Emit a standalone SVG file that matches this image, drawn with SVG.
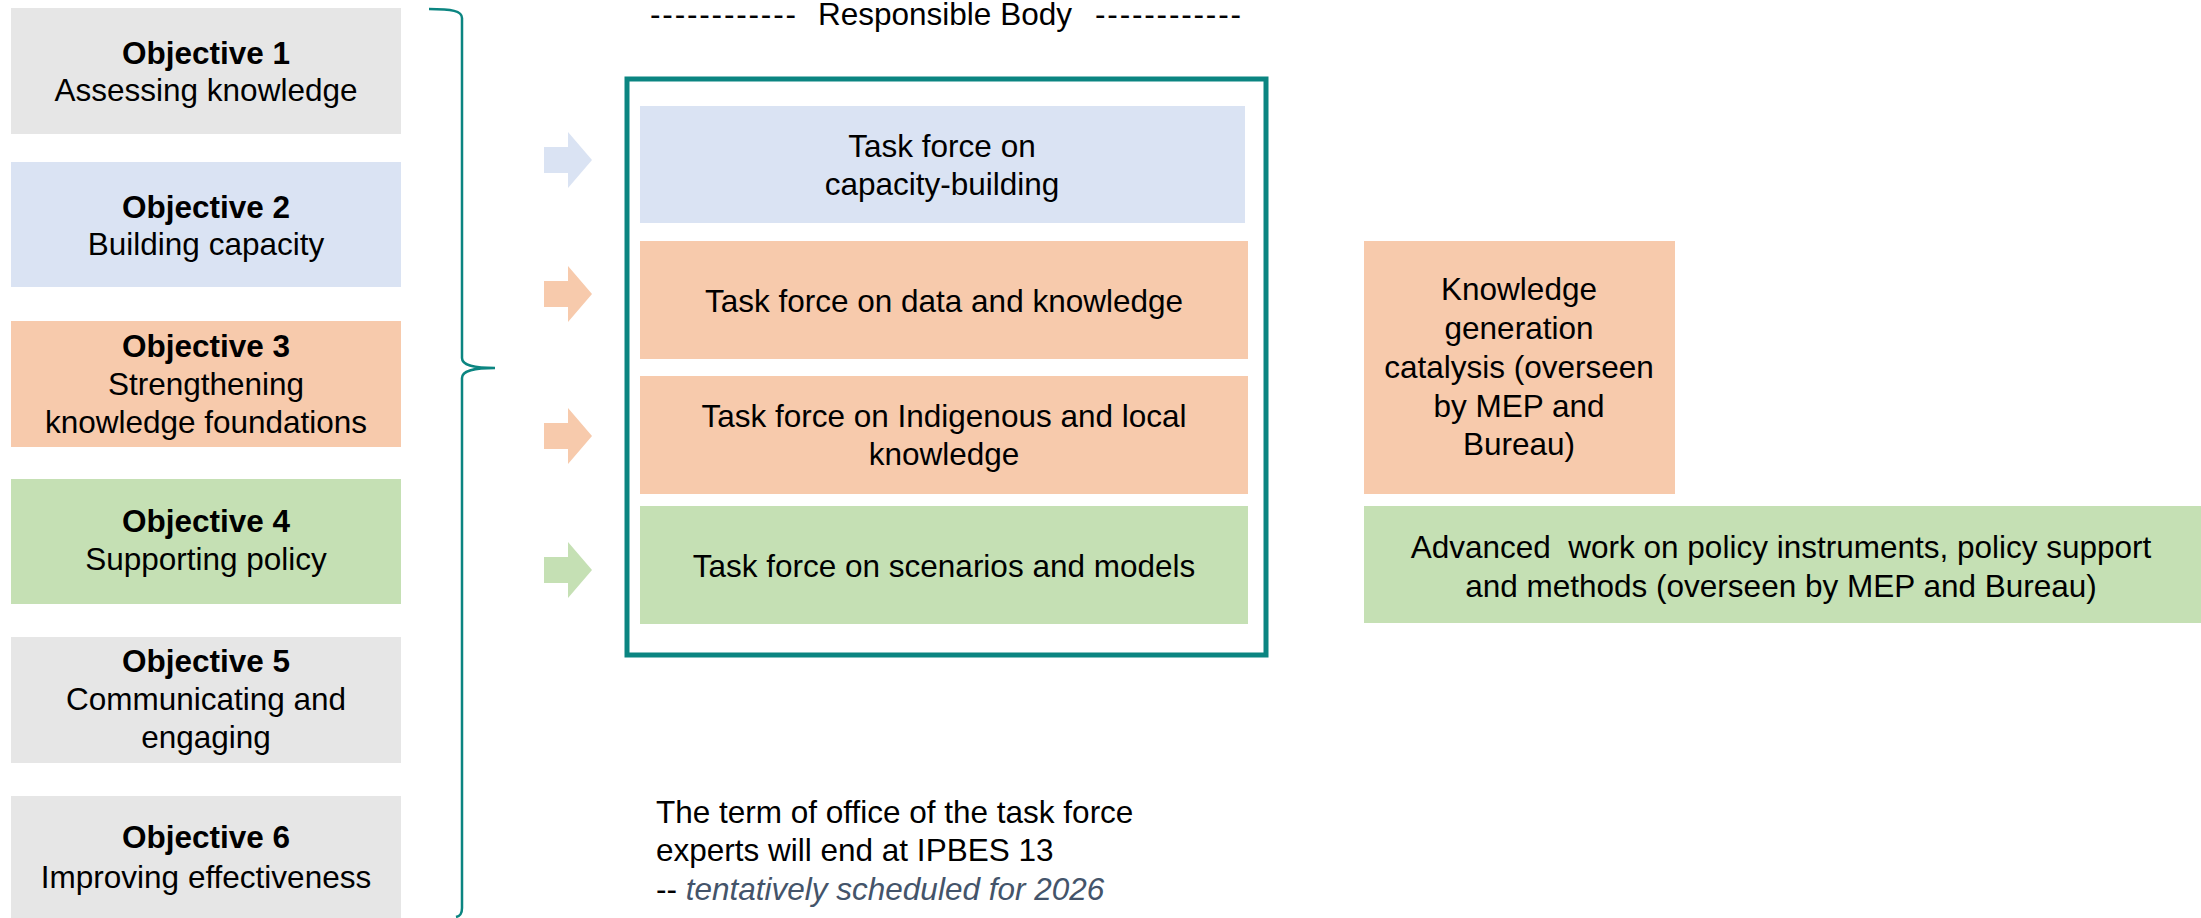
<svg xmlns="http://www.w3.org/2000/svg" width="2201" height="918" viewBox="0 0 2201 918">
<defs>
<style>
text{font-family:"Liberation Sans",Arial,Helvetica,sans-serif;font-size:31.5px;fill:#000;text-anchor:middle}
.b{font-weight:bold}
.grey{fill:#e6e6e6}
.blue{fill:#dae3f3}
.orange{fill:#f7caac}
.green{fill:#c5e0b4}
.it{font-style:italic;fill:#44546a}
.l{text-anchor:start}
</style>
</defs>
<rect width="2201" height="918" fill="#fff"/>

<g id="header">
<text x="723" y="25" textLength="146" lengthAdjust="spacing">------------</text>
<text x="945" y="25">Responsible Body</text>
<text x="1168" y="25" textLength="146" lengthAdjust="spacing">------------</text>
</g>

<g id="obj1"><rect class="grey" x="11" y="8" width="390" height="126"/><text class="b" x="206" y="64">Objective 1</text><text x="206" y="101">Assessing knowledge</text></g>
<g id="obj2"><rect class="blue" x="11" y="162" width="390" height="125"/><text class="b" x="206" y="218">Objective 2</text><text x="206" y="255">Building capacity</text></g>
<g id="obj3"><rect class="orange" x="11" y="321" width="390" height="126"/><text class="b" x="206" y="357">Objective 3</text><text x="206" y="395">Strengthening</text><text x="206" y="433">knowledge foundations</text></g>
<g id="obj4"><rect class="green" x="11" y="479" width="390" height="125"/><text class="b" x="206" y="532">Objective 4</text><text x="206" y="570">Supporting policy</text></g>
<g id="obj5"><rect class="grey" x="11" y="637" width="390" height="126"/><text class="b" x="206" y="672">Objective 5</text><text x="206" y="710">Communicating and</text><text x="206" y="748">engaging</text></g>
<g id="obj6"><rect class="grey" x="11" y="796" width="390" height="122"/><text class="b" x="206" y="848">Objective 6</text><text x="206" y="888">Improving effectiveness</text></g>

<g id="responsible-body">
<rect x="627" y="79" width="639" height="576" fill="none" stroke="#0b8581" stroke-width="5"/>
</g>
<g id="tf1"><rect class="blue" x="640" y="106" width="605" height="117"/><text x="942" y="157">Task force on</text><text x="942" y="195">capacity-building</text></g>
<g id="tf2"><rect class="orange" x="640" y="241" width="608" height="118"/><text x="944" y="312">Task force on data and knowledge</text></g>
<g id="tf3"><rect class="orange" x="640" y="376" width="608" height="118"/><text x="944" y="427">Task force on Indigenous and local</text><text x="944" y="465">knowledge</text></g>
<g id="tf4"><rect class="green" x="640" y="506" width="608" height="118"/><text x="944" y="577">Task force on scenarios and models</text></g>

<g id="kgc"><rect class="orange" x="1364" y="241" width="311" height="253"/>
<text x="1519" y="300">Knowledge</text><text x="1519" y="339">generation</text><text x="1519" y="378">catalysis (overseen</text><text x="1519" y="417">by MEP and</text><text x="1519" y="455">Bureau)</text></g>
<g id="advanced"><rect class="green" x="1364" y="506" width="837" height="117"/>
<text x="1781" y="558" xml:space="preserve">Advanced  work on policy instruments, policy support</text><text x="1781" y="597">and methods (overseen by MEP and Bureau)</text></g>

<g id="note">
<text class="l" x="656" y="823">The term of office of the task force</text>
<text class="l" x="656" y="861">experts will end at IPBES 13</text>
<text class="l" x="656" y="900">-- <tspan class="it">tentatively scheduled for 2026</tspan></text>
</g>

<g id="connectors">
<path d="M429,9 C452,9 462,11 462,18 L462,358 C462,365 472,368 495,368 C472,368 462,371 462,378 L462,908 C462,914 460,916 456,917" fill="none" stroke="#0b8581" stroke-width="2.5"/>
<polygon class="blue" points="544,147 568,147 568,132 592,160 568,188 568,173 544,173"/>
<polygon class="orange" points="544,281 568,281 568,266 592,294 568,322 568,307 544,307"/>
<polygon class="orange" points="544,423 568,423 568,408 592,436 568,464 568,449 544,449"/>
<polygon class="green" points="544,557 568,557 568,542 592,570 568,598 568,583 544,583"/>
</g>
</svg>
